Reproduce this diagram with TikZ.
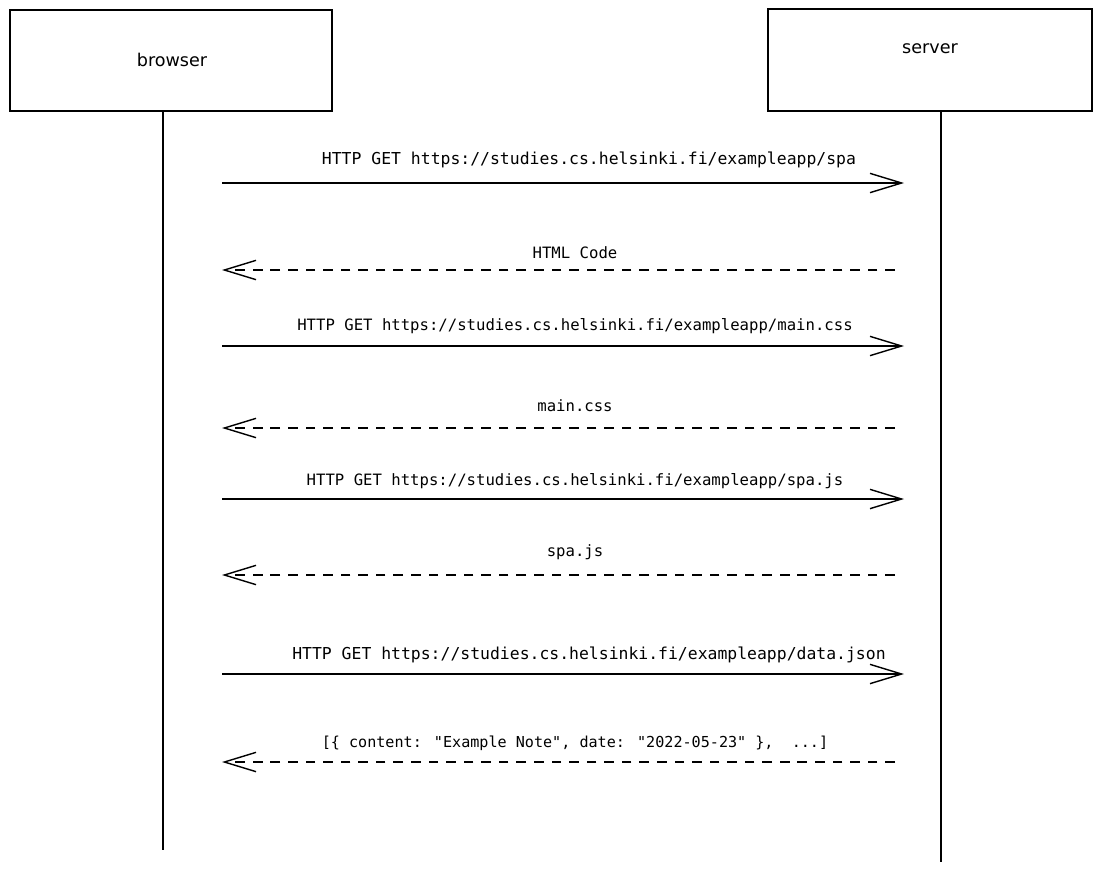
\documentclass[tikz,border=0pt]{standalone}
\usepackage{fontspec}
\setmainfont{DejaVu Sans}
\newfontfamily\msgfont{DejaVu Sans Mono}
\usetikzlibrary{arrows.meta}

\begin{document}
\begin{tikzpicture}[
    x=0.02cm, y=-0.02cm,
    line width=0.8pt,
    actor/.style={draw, line width=1pt, minimum width=6.44cm, minimum height=2.02cm, inner sep=0pt},
    actorname/.style={font=\fontsize{10}{12}\selectfont},
    lifeline/.style={line width=1pt},
    request/.style={-{Straight Barb[length=18pt, width=11pt, line width=0.8pt]}},
    reply/.style={-{Straight Barb[length=18pt, width=11pt, line width=0.8pt]}, dash pattern=on 5.5pt off 4.5pt},
    msg/.style={font=\msgfont\fontsize{8.9}{11}\selectfont, inner sep=0pt},
    bigmsg/.style={msg, font=\msgfont\fontsize{9.35}{11}\selectfont}
]

    \useasboundingbox (0,0) rectangle (1102,873);

    % --- Participants ---
    \node[actor] (browser) at (171,60.5) {};
    \node[actor, minimum width=6.48cm, minimum height=2.04cm] (server) at (930,60) {};
    \node[actorname] (browser name) at (172,60) {browser};
    \node[actorname] (server name) at (930,49) {server};

    % Lifelines
    \coordinate (browser end) at (163,850);
    \coordinate (server end) at (941,862);
    \draw[lifeline] (browser end |- browser.south) -- (browser end);
    \draw[lifeline] (server end |- server.south) -- (server end);

    % --- Messages ---
    \coordinate (m1 from) at (222,183);
    \coordinate (m1 to) at (904,183);
    \coordinate (m2 from) at (895,270);
    \coordinate (m2 to) at (222,270);
    \coordinate (m3 from) at (222,346);
    \coordinate (m3 to) at (904,346);
    \coordinate (m4 from) at (895,428);
    \coordinate (m4 to) at (222,428);
    \coordinate (m5 from) at (222,499);
    \coordinate (m5 to) at (904,499);
    \coordinate (m6 from) at (895,575);
    \coordinate (m6 to) at (222,575);
    \coordinate (m7 from) at (222,674);
    \coordinate (m7 to) at (904,674);
    \coordinate (m8 from) at (895,762);
    \coordinate (m8 to) at (222,762);

    % requests (solid)
    \draw[request] (m1 from) -- (m1 to);
    \draw[request] (m3 from) -- (m3 to);
    \draw[request] (m5 from) -- (m5 to);
    \draw[request] (m7 from) -- (m7 to);

    % replies (dashed)
    \draw[reply] (m2 from) -- (m2 to);
    \draw[reply] (m4 from) -- (m4 to);
    \draw[reply] (m6 from) -- (m6 to);
    \draw[reply] (m8 from) -- (m8 to);

    % Message labels
    \node[bigmsg] (l1) at (589,160) {HTTP GET https://studies.cs.helsinki.fi/exampleapp/spa};
    \node[msg] (l2) at (575,253) {HTML Code};
    \node[msg] (l3) at (575,326) {HTTP GET https://studies.cs.helsinki.fi/exampleapp/main.css};
    \node[msg] (l4) at (575,406) {main.css};
    \node[msg] (l5) at (575,481) {HTTP GET https://studies.cs.helsinki.fi/exampleapp/spa.js};
    \node[msg] (l6) at (575,552) {spa.js};
    \node[bigmsg] (l7) at (589,655) {HTTP GET https://studies.cs.helsinki.fi/exampleapp/data.json};
    \node[msg, font=\msgfont\fontsize{8.6}{11}\selectfont] (l8) at (575,743) {[\{ content: "Example Note", date: "2022-05-23" \},~~...]};

\end{tikzpicture}
\end{document}
